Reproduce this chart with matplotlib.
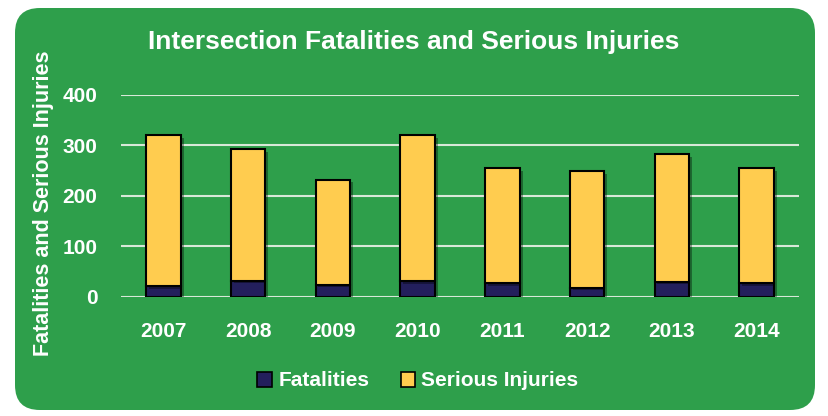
import matplotlib
matplotlib.use("Agg")
import matplotlib.pyplot as plt
import matplotlib.patheffects as pe
from matplotlib.patches import FancyBboxPatch, Patch
from matplotlib import font_manager
import numpy as np

years = ["2007", "2008", "2009", "2010", "2011", "2012", "2013", "2014"]
fatalities = [21, 32, 24, 31, 27, 18, 30, 27]
serious_injuries = [299, 260, 208, 289, 228, 231, 253, 228]

GREEN = "#2E9F4B"
NAVY = "#231F5C"
YELLOW = "#FFCC4F"

# narrow bold font if we have it
names = {f.name for f in font_manager.fontManager.ttflist}
FONT = "Liberation Sans Narrow" if "Liberation Sans Narrow" in names else "Liberation Sans"
plt.rcParams["font.family"] = [FONT, "DejaVu Sans"]
plt.rcParams["font.weight"] = "bold"

W, H = 829, 416
fig = plt.figure(figsize=(W / 100, H / 100), dpi=100)
fig.patch.set_facecolor("white")

# green rounded panel
panel = FancyBboxPatch((15 / W, 6 / H), 800 / W, 402 / H,
                       boxstyle="round,pad=0,rounding_size=0.03",
                       transform=fig.transFigure, facecolor=GREEN,
                       edgecolor="none", mutation_aspect=W / H, zorder=-5)
fig.patches.append(panel)

ax = fig.add_axes([121 / W, 1 - 296.7 / H, 678 / W, 201.7 / H])
ax.set_facecolor("none")
ax.set_zorder(2)

x = np.arange(len(years))
shadow = [pe.SimplePatchShadow(offset=(2, -2), shadow_rgbFace="black", alpha=0.35), pe.Normal()]
b1 = ax.bar(x, fatalities, width=0.41, color=NAVY, edgecolor="black", linewidth=1.5, zorder=3)
b2 = ax.bar(x, serious_injuries, width=0.41, bottom=fatalities, color=YELLOW,
            edgecolor="black", linewidth=1.5, zorder=3)
for b in list(b1) + list(b2):
    b.set_path_effects(shadow)

ax.set_xlim(-0.5, len(years) - 0.5)
ax.set_ylim(0, 400)
ax.set_yticks([0, 100, 200, 300, 400])
ax.set_xticks(x)
ax.set_xticklabels(years)
ax.yaxis.grid(True, color="#D8E8D8", linewidth=1.5, zorder=1)
ax.set_axisbelow(True)
for s in ax.spines.values():
    s.set_visible(False)
ax.axhline(0, color="#D8E8D8", linewidth=1.8, zorder=2)
ax.tick_params(length=0, colors="white", labelsize=15)
ax.tick_params(axis="x", pad=18)
ax.tick_params(axis="y", pad=17)
for lab in ax.get_xticklabels() + ax.get_yticklabels():
    lab.set_fontweight("bold")

ax.set_ylabel("Fatalities and Serious Injuries", color="white", fontsize=15.5,
              fontweight="bold", va="center")
ax.yaxis.set_label_coords(-0.115, 0.462)

fig.text(414 / W, 1 - 42 / H, "Intersection Fatalities and Serious Injuries",
         color="white", fontsize=19, fontweight="bold", ha="center", va="center")

handles = [Patch(facecolor=NAVY, edgecolor="black", linewidth=1.2, label="Fatalities"),
           Patch(facecolor=YELLOW, edgecolor="black", linewidth=1.2, label="Serious Injuries")]
leg = fig.legend(handles=handles, loc="center", bbox_to_anchor=(418 / W, 1 - 381 / H),
                 ncol=2, frameon=False, fontsize=15, handlelength=0.7, handleheight=0.7,
                 handletextpad=0.3, columnspacing=1.5)
for t in leg.get_texts():
    t.set_color("white")
    t.set_fontweight("bold")

fig.savefig("out.png", dpi=100, facecolor="white")
